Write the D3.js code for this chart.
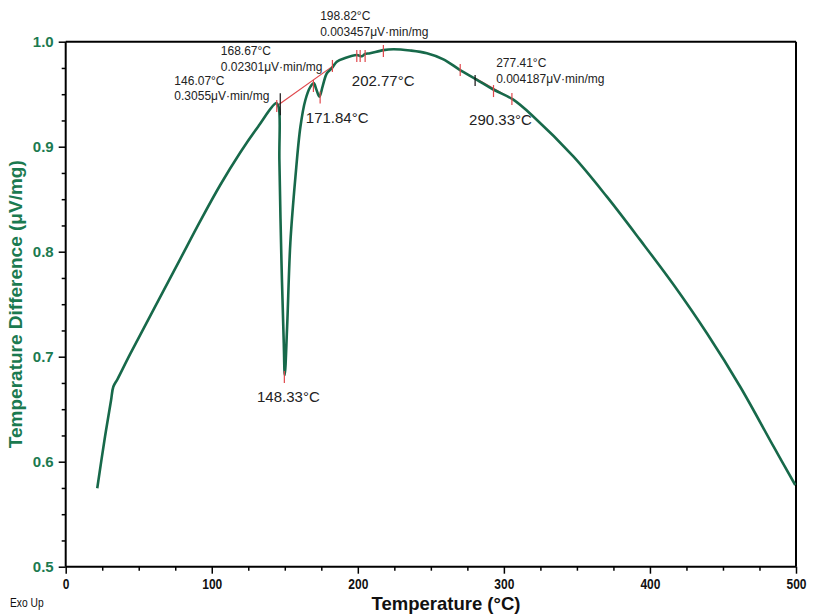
<!DOCTYPE html>
<html><head><meta charset="utf-8">
<script src="https://cdn.jsdelivr.net/npm/d3@7/dist/d3.min.js"></script>
<style>body{margin:0;background:#fff}svg{display:block}</style>
</head><body><svg id="c" width="816" height="616"></svg>
<script>
// ---- data ----
const temps = [21.6, 26.9, 31.0, 32.6, 35.5, 44.0, 62.3, 78.3, 92.0, 105.7, 119.4, 131.7, 144.2, 145.9, 146.3, 147.7, 149.3, 150.0,
  151.6, 153.8, 157.3, 160.7, 164.1, 167.5, 169.9, 171.5, 173.7, 176.0, 178.8, 182.2, 185.6, 191.3, 199.3,
  202.8, 205.0, 208.4, 217.5, 224.4, 235.8, 247.3, 258.6, 270.0, 281.0, 293.4, 306.2, 320.3, 347.7, 370.5,
  393.4, 416.2, 439.0, 461.8, 484.7, 499.5];
const values = [0.5747, 0.6238, 0.658, 0.6714, 0.6787, 0.7022, 0.7505, 0.7927, 0.8289, 0.8633, 0.8943, 0.9191, 0.9415, 0.937, 0.8873, 0.792, 0.713, 0.6826,
  0.7286, 0.8083, 0.8714, 0.919, 0.9445, 0.957, 0.9604, 0.955, 0.9476, 0.958, 0.970, 0.9747, 0.981, 0.9845, 0.9873,
  0.9862, 0.9883, 0.989, 0.992, 0.9928, 0.9916, 0.989, 0.9832, 0.973, 0.9642, 0.954, 0.945, 0.9286, 0.8905, 0.8524,
  0.811, 0.7685, 0.7223, 0.6714, 0.6143, 0.5778];
const xTicks = [0, 100, 200, 300, 400, 500];
const yTicks = [0.5, 0.6, 0.7, 0.8, 0.9, 1.0];
// red event markers [T, value]
const eventTemps = [144.5, 149.7, 169.6, 174.2, 182.6, 199.3, 201.6, 205.0, 217.5, 270.1, 292.9, 305.5];
const eventValues = [0.9388, 0.6807, 0.9578, 0.9469, 0.9769, 0.9864, 0.9864, 0.9864, 0.9911, 0.973, 0.953, 0.9454];
// black onset markers [T, valueTop, valueBottom]
const onsetTemps = [146.9, 280.3];
const onsetTop = [0.951, 0.9683];
const onsetBottom = [0.930, 0.9578];
// red baselines [T1, v1, T2, v2]
const baselines = [[144.5, 0.9388, 182.6, 0.9765], [280.3, 0.9654, 306.2, 0.9451]];
// annotation texts
const smallLabels = [
  {lines: ["146.07°C", "0.3055\u03BCV\u00B7min/mg"], t: 74.4, v: 0.9588},
  {lines: ["168.67°C", "0.02301\u03BCV\u00B7min/mg"], t: 106.2, v: 0.9873},
  {lines: ["198.82°C", "0.003457\u03BCV\u00B7min/mg"], t: 174.2, v: 1.0202},
  {lines: ["277.41°C", "0.004187\u03BCV\u00B7min/mg"], t: 294.7, v: 0.9756}
];
const peakLabels = [
  {text: "148.33°C", t: 131.0, v: 0.6571},
  {text: "171.84°C", t: 164.4, v: 0.9223},
  {text: "202.77°C", t: 195.9, v: 0.9578},
  {text: "290.33°C", t: 276.2, v: 0.9207}
];

// ---- chart ----
const svg = d3.select("#c");
const x = d3.scaleLinear().domain([0, 500]).range([65.7, 796]);
const y = d3.scaleLinear().domain([0.5, 1.0]).range([566.7, 41.7]);
const green = "#17694a", ygreen = "#1b7a50", red = "#e0474c";
const FONT = "'Liberation Sans', Arial, sans-serif";

// frame top/right
svg.append("line").attr("x1", x(0)).attr("x2", x(500)).attr("y1", y(1)).attr("y2", y(1)).attr("stroke", "#000").attr("stroke-width", 2);
svg.append("line").attr("x1", x(500)).attr("x2", x(500)).attr("y1", y(1)).attr("y2", y(0.5)).attr("stroke", "#000").attr("stroke-width", 2);

// minor ticks
const xMinor = d3.range(0, 501, 25).filter(d => d % 100 !== 0);
const yMinor = d3.range(0.5, 1.0001, 0.025).filter(d => Math.abs(d * 10 - Math.round(d * 10)) > 1e-6);

const gx = svg.append("g").attr("transform", `translate(0,${y(0.5)})`);
gx.call(d3.axisBottom(x).tickValues(xMinor).tickSize(4).tickFormat(""));
gx.call(g => g.selectAll("path").remove());
const gx2 = svg.append("g").attr("transform", `translate(0,${y(0.5)})`);
gx2.call(d3.axisBottom(x).tickValues(xTicks).tickSize(7).tickPadding(5).tickFormat(d3.format("d")));
gx2.select("path").attr("stroke-width", 2).attr("d", `M${x(0)},0H${x(500)}`);
gx2.selectAll("text").attr("font-family", FONT).attr("font-weight", "bold").attr("font-size", 15).attr("fill", "#111")
  .attr("transform", "scale(0.8,1)");
[gx, gx2].forEach(g => g.selectAll("line").attr("stroke-width", 1.5));

const gy = svg.append("g").attr("transform", `translate(${x(0)},0)`);
gy.call(d3.axisLeft(y).tickValues(yMinor).tickSize(4).tickFormat(""));
gy.call(g => g.selectAll("path").remove());
const gy2 = svg.append("g").attr("transform", `translate(${x(0)},0)`);
gy2.call(d3.axisLeft(y).tickValues(yTicks).tickSize(7).tickPadding(5).tickFormat(d3.format(".1f")));
gy2.select("path").attr("stroke-width", 2).attr("d", `M0,${y(0.5)}V${y(1)}`);
gy2.selectAll("text").attr("font-family", FONT).attr("font-weight", "bold").attr("font-size", 15).attr("fill", ygreen);
[gy, gy2].forEach(g => g.selectAll("line").attr("stroke-width", 1.5));

// axis titles
svg.append("text").attr("x", 446).attr("y", 610).attr("text-anchor", "middle")
  .attr("font-family", FONT).attr("font-weight", "bold").attr("font-size", 18.5).attr("fill", "#111")
  .text("Temperature (°C)");
svg.append("text").attr("transform", `translate(22,${(y(0.5) + y(1)) / 2}) rotate(-90)`).attr("text-anchor", "middle")
  .attr("font-family", FONT).attr("font-weight", "bold").attr("font-size", 19).attr("fill", ygreen)
  .text("Temperature Difference (\u03BCV/mg)");
svg.append("text").attr("transform", "translate(10,607) scale(0.82,1)").attr("font-family", FONT).attr("font-size", 12.5).attr("fill", "#111").text("Exo Up");

// baselines
svg.selectAll(".base").data(baselines).enter().append("line")
  .attr("x1", d => x(d[0])).attr("y1", d => y(d[1])).attr("x2", d => x(d[2])).attr("y2", d => y(d[3]))
  .attr("stroke", red).attr("stroke-width", 1.2);

// curve
const pts = temps.map((t, i) => [t, values[i]]);
svg.append("path").datum(pts)
  .attr("d", d3.line().x(d => x(d[0])).y(d => y(d[1])).curve(d3.curveCatmullRom.alpha(0.5)))
  .attr("fill", "none").attr("stroke", green).attr("stroke-width", 2.6).attr("stroke-linejoin", "round");

// event markers
svg.selectAll(".ev").data(eventTemps).enter().append("line")
  .attr("x1", d => x(d)).attr("x2", d => x(d))
  .attr("y1", (d, i) => y(eventValues[i]) - 6).attr("y2", (d, i) => y(eventValues[i]) + 6)
  .attr("stroke", red).attr("stroke-width", 1.2);
svg.selectAll(".on").data(onsetTemps).enter().append("line")
  .attr("x1", d => x(d)).attr("x2", d => x(d))
  .attr("y1", (d, i) => y(onsetTop[i])).attr("y2", (d, i) => y(onsetBottom[i]))
  .attr("stroke", "#111").attr("stroke-width", 1.2);

// labels
smallLabels.forEach(l => {
  const t = svg.append("text").attr("font-family", FONT).attr("font-size", 12).attr("fill", "#222");
  l.lines.forEach((s, i) => t.append("tspan").attr("x", x(l.t)).attr("y", y(l.v) + i * 15.5).text(s));
});
svg.selectAll(".pk").data(peakLabels).enter().append("text")
  .attr("x", d => x(d.t)).attr("y", d => y(d.v))
  .attr("font-family", FONT).attr("font-size", 15).attr("fill", "#222").text(d => d.text);
</script></body></html>
